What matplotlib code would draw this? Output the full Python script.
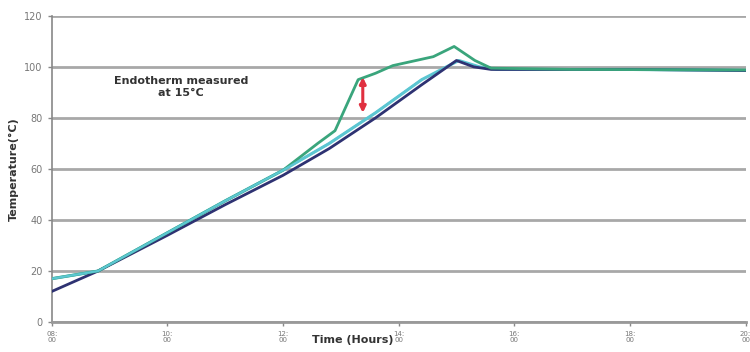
import matplotlib
matplotlib.use("Agg")
import matplotlib.pyplot as plt

# Data
tick_labels = ["08:\n00", "10:\n00", "12:\n00", "14:\n00", "16:\n00", "18:\n00", "20:\n00"]
y_ticks = [0, 20, 40, 60, 80, 100, 120]

dark_x = [0, 0.4, 1.0, 1.5, 2.0, 2.4, 2.8, 3.2, 3.5, 3.65, 3.8, 4.5, 5.0, 5.5, 6.0]
dark_y = [12, 20, 34, 46, 57.5, 68, 80, 93, 102.5, 100, 99, 99, 99, 98.8, 98.6]

cyan_x = [0, 0.4, 1.0, 1.5, 2.0, 2.4, 2.8, 3.2, 3.52, 3.7, 3.85, 4.5, 5.0, 5.5, 6.0]
cyan_y = [17, 20, 35, 47.5, 59.5, 70, 82, 95, 102.5, 100, 99, 99, 99, 98.8, 98.6]

green_x = [0, 0.4, 1.0, 1.5, 2.0, 2.3, 2.45, 2.55, 2.65, 2.8, 2.95, 3.3, 3.48, 3.66, 3.8, 4.5, 6.0]
green_y = [17, 20, 35, 47.5, 59.5, 70, 75, 85, 95, 97.5, 100.5, 104, 108, 102.5, 99.5, 99, 98.8]

arrow_x = 2.69
arrow_y0, arrow_y1 = 82, 96

fig = plt.figure(figsize=(7.5, 3.52), dpi=100)
ax = fig.add_axes([0.069, 0.085, 0.925, 0.87])

ax.plot(cyan_x, cyan_y, color="#5cc6d2", lw=2.2, zorder=3)
ax.plot(green_x, green_y, color="#3aa57c", lw=2.0, zorder=4)
ax.plot(dark_x, dark_y, color="#2e3272", lw=2.0, zorder=3)
ax.plot(cyan_x[:8], cyan_y[:8], color="#5cc6d2", lw=1.6, zorder=5)

ax.annotate("", xy=(arrow_x, arrow_y1), xytext=(arrow_x, arrow_y0),
            arrowprops=dict(arrowstyle="<|-|>", color="#e03040", lw=2.2,
                            mutation_scale=9, shrinkA=0, shrinkB=0), zorder=6)

ax.text(1.12, 92, "Endotherm measured\nat 15°C", ha="center", va="center",
        fontsize=8, fontweight="bold", color="#333333")

ax.set_xlim(0, 6.0)
ax.set_ylim(0, 120)
ax.set_yticks(y_ticks)
ax.set_xticks(range(len(tick_labels)))
ax.set_xticklabels(tick_labels, fontsize=5, color="#777777", linespacing=1.0)
ax.set_yticklabels([str(v) for v in y_ticks], fontsize=7, color="#777777")
ax.tick_params(axis="both", length=3, color="#888888", width=1)

ax.grid(axis="y", color="#a8a8a8", lw=2)
ax.set_axisbelow(True)
for s in ["top", "right"]:
    ax.spines[s].set_visible(False)
ax.spines["left"].set_color("#888888")
ax.spines["bottom"].set_color("#999999")
ax.spines["bottom"].set_linewidth(2)
ax.spines["left"].set_linewidth(1.2)

ax.set_ylabel("Temperature(°C)", fontsize=8, fontweight="bold", color="#333333", labelpad=4)
fig.text(0.47, 0.035, "Time (Hours)", ha="center", va="center",
         fontsize=8, fontweight="bold", color="#333333")

fig.savefig("out.png", dpi=100)
